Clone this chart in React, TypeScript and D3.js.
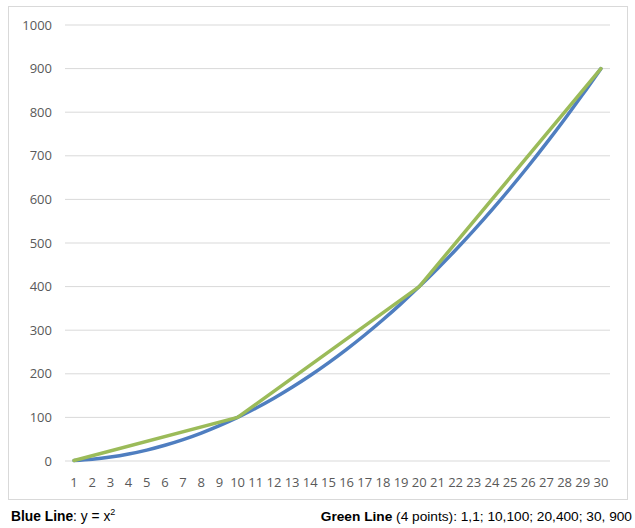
import React from "react";
import * as d3 from "d3";

const categories = Array.from({ length: 30 }, (_, i) => String(i + 1));
const blueValues = [1, 4, 9, 16, 25, 36, 49, 64, 81, 100, 121, 144, 169, 196, 225, 256, 289, 324, 361, 400, 441, 484, 529, 576, 625, 676, 729, 784, 841, 900];
const greenCats = ["1", "10", "20", "30"];
const greenValues = [1, 100, 400, 900];
const yTicks = [0, 100, 200, 300, 400, 500, 600, 700, 800, 900, 1000];

export default function App() {
  const W = 635, H = 528;
  const left = 65, right = 610, top = 25, bottom = 461;
  const x = d3.scaleBand<string>().domain(categories).range([left, right]);
  const xc = (c: string) => (x(c) as number) + x.bandwidth() / 2;
  const y = d3.scaleLinear().domain([0, 1000]).range([bottom, top]);
  const line = d3.line<[string, number]>().x(d => xc(d[0])).y(d => y(d[1]));
  const blueLine = d3.line<[string, number]>().x(d => xc(d[0])).y(d => y(d[1])).curve(d3.curveMonotoneX);
  const bluePts = categories.map((c, i) => [c, blueValues[i]] as [string, number]);
  const greenPts = greenCats.map((c, i) => [c, greenValues[i]] as [string, number]);
  const font = "Open Sans, sans-serif";
  return (
    <svg width={W} height={H} style={{ position: "absolute", left: 0, top: 0 }}>
      <rect x={0} y={0} width={W} height={H} fill="#fff" />
      <rect x={8.5} y={6.5} width={619} height={493} fill="#fff" stroke="#d9d9d9" strokeWidth={1} />
      {yTicks.map(t => (
        <g key={t}>
          <line x1={left} x2={right} y1={y(t)} y2={y(t)} stroke="#d9d9d9" strokeWidth={1} />
          <text x={52} y={y(t) + 4.5} textAnchor="end" fontFamily={font} fontSize={13} fill="#595959">{t}</text>
        </g>
      ))}
      {categories.map(c => (
        <text key={c} x={xc(c)} y={487} textAnchor="middle" fontFamily={font} fontSize={13} fill="#595959">{c}</text>
      ))}
      <path d={blueLine(bluePts) || ""} fill="none" stroke="#4F7EC0" strokeWidth={3.5} strokeLinejoin="round" strokeLinecap="round" />
      <path d={line(greenPts) || ""} fill="none" stroke="#9BBB59" strokeWidth={3.5} strokeLinejoin="round" strokeLinecap="round" />
      <text x={11} y={521} fontFamily="Liberation Sans, Arial, sans-serif" fontSize={13.8} fill="#000">
        <tspan fontWeight="bold">Blue Line</tspan>
        <tspan>: y = x</tspan>
        <tspan dy={-6} fontSize={9}>2</tspan>
      </text>
      <text x={632} y={521} textAnchor="end" fontFamily="Liberation Sans, Arial, sans-serif" fontSize={13.7} fill="#000">
        <tspan fontWeight="bold">Green Line</tspan>
        <tspan> (4 points): 1,1; 10,100; 20,400; 30, 900</tspan>
      </text>
    </svg>
  );
}
